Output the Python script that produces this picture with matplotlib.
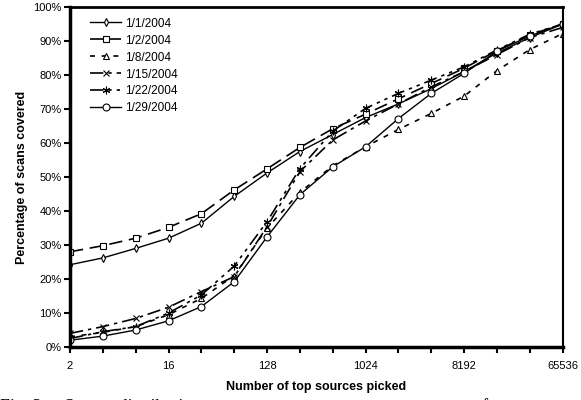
import numpy as np
import matplotlib
matplotlib.use("Agg")
from matplotlib import pyplot as plt
from matplotlib.ticker import FixedLocator, FuncFormatter, NullFormatter

plt.rcParams['font.family'] = ['Liberation Sans', 'DejaVu Sans']

# number of top sources picked (powers of 2)
sources = [2, 4, 8, 16, 32, 64, 128, 256, 512, 1024, 2048, 4096, 8192, 16384, 32768, 65536]
x_ticks = [2, 16, 128, 1024, 8192, 65536]

# percentage of scans covered, per day
d0101 = [24.2, 26.2, 29.0, 32.0, 36.4, 44.3, 51.2, 57.5, 62.5, 67.5, 71.5, 76.0, 81.0, 86.5, 91.0, 95.0]
d0102 = [28.0, 29.8, 32.0, 35.2, 39.2, 46.2, 52.4, 58.7, 64.2, 68.5, 73.0, 77.5, 82.0, 87.2, 91.8, 95.0]
d0108 = [3.0, 4.3, 6.0, 9.5, 14.3, 21.0, 35.0, 45.5, 53.3, 58.9, 64.0, 68.7, 73.8, 81.3, 87.5, 92.2]
d0115 = [4.0, 6.0, 8.4, 11.7, 16.3, 20.7, 35.4, 51.6, 60.9, 66.5, 71.5, 76.5, 81.0, 86.0, 91.0, 94.0]
d0122 = [2.5, 4.5, 6.0, 10.0, 15.3, 23.8, 36.9, 52.5, 63.5, 70.2, 74.6, 78.5, 82.4, 87.4, 92.0, 95.0]
d0129 = [2.0, 3.2, 5.0, 7.7, 11.9, 19.2, 32.4, 44.8, 53.0, 58.9, 67.2, 74.6, 80.5, 87.0, 91.5, 95.0]

labels = ['1/1/2004', '1/2/2004', '1/8/2004', '1/15/2004', '1/22/2004', '1/29/2004']
series = [d0101, d0102, d0108, d0115, d0122, d0129]
markers = ['d', 's', '^', 'x', (6, 2, 0), 'o']
styles = ['-', (0, (8, 4)), (0, (3, 4)), (0, (8, 3, 2, 3)), (0, (8, 3, 2, 3, 2, 3)), '-']
widths = [1.0, 1.2, 1.2, 1.2, 1.2, 1.0]
msizes = [4, 5, 4.5, 5, 5.5, 5]

fig = plt.figure(figsize=(5.81, 4.0), dpi=100)
ax = fig.add_axes([0.1205, 0.1325, 0.848, 0.85])

for y, lab, m, ls, lw, ms in zip(series, labels, markers, styles, widths, msizes):
    ax.plot(sources, y, color='black', linestyle=ls, linewidth=lw, marker=m,
            markersize=ms, markerfacecolor='white', markeredgecolor='black',
            markeredgewidth=0.8, label=lab)

ax.set_xscale('log', base=2)
ax.set_xlim(2, 65536)
ax.set_ylim(0, 100)
ax.xaxis.set_major_locator(FixedLocator(x_ticks))
ax.xaxis.set_minor_locator(FixedLocator(sources))
ax.xaxis.set_major_formatter(FuncFormatter(lambda v, p: '%d' % v))
ax.xaxis.set_minor_formatter(NullFormatter())
ax.set_yticks(np.arange(0, 101, 10))
ax.yaxis.set_major_formatter(FuncFormatter(lambda v, p: '%d%%' % v))

ax.tick_params(axis='both', direction='out', length=4, width=1.5, labelsize=8, pad=6)
ax.tick_params(axis='x', which='minor', direction='out', length=4, width=1.5)
ax.tick_params(axis='y', pad=2)

ax.spines['left'].set_linewidth(2.5)
ax.spines['bottom'].set_linewidth(2.5)
ax.spines['top'].set_linewidth(2.0)
ax.spines['right'].set_linewidth(1.5)

ax.set_xlabel('Number of top sources picked', fontsize=9, fontweight='bold', labelpad=7)
ax.set_ylabel('Percentage of scans covered', fontsize=9, fontweight='bold', labelpad=4)

leg = ax.legend(loc='upper left', bbox_to_anchor=(0.02, 1.0), frameon=False,
                fontsize=8.5, handlelength=2.6, handletextpad=0.3, labelspacing=0.42)

# figure caption, mostly cut off at the bottom edge
fig.text(0.0, -0.017, 'Fig. 3.    Source distribution    across    scans    over    a    range    of    sources',
         fontsize=13, family='Liberation Serif', va='center', ha='left')

fig.savefig('out.png', dpi=100)
